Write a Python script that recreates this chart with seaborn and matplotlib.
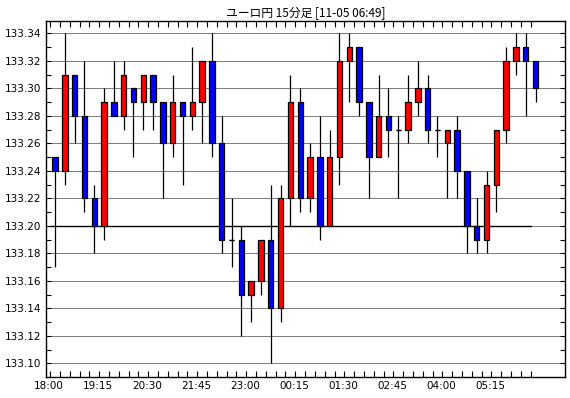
import numpy as np
import pandas as pd
import matplotlib
matplotlib.use("Agg")
import matplotlib.pyplot as plt
import seaborn as sns

# ---- data (EUR/JPY 15-minute candles) ----
title = "ユーロ円 15分足 [11-05 06:49]"
start_time = "18:00"
opens  = [133.25, 133.24, 133.31, 133.28, 133.22, 133.20, 133.29, 133.28, 133.30, 133.29,
          133.31, 133.29, 133.26, 133.29, 133.28, 133.29, 133.32, 133.26, 133.19, 133.19,
          133.15, 133.16, 133.19, 133.14, 133.22, 133.29, 133.22, 133.25, 133.20, 133.25,
          133.32, 133.33, 133.29, 133.25, 133.28, 133.27, 133.27, 133.29, 133.30, 133.27,
          133.26, 133.27, 133.24, 133.20, 133.19, 133.23, 133.27, 133.32, 133.33, 133.32]
highs  = [133.25, 133.34, 133.31, 133.32, 133.23, 133.30, 133.32, 133.32, 133.30, 133.31,
          133.31, 133.29, 133.31, 133.29, 133.33, 133.32, 133.34, 133.28, 133.22, 133.20,
          133.16, 133.19, 133.23, 133.23, 133.31, 133.30, 133.26, 133.28, 133.27, 133.34,
          133.34, 133.33, 133.29, 133.31, 133.30, 133.28, 133.31, 133.32, 133.31, 133.28,
          133.27, 133.28, 133.24, 133.22, 133.24, 133.27, 133.33, 133.34, 133.34, 133.32]
lows   = [133.17, 133.23, 133.26, 133.21, 133.18, 133.19, 133.28, 133.27, 133.25, 133.27,
          133.27, 133.22, 133.25, 133.23, 133.27, 133.26, 133.25, 133.18, 133.17, 133.12,
          133.13, 133.15, 133.10, 133.13, 133.20, 133.21, 133.21, 133.19, 133.20, 133.23,
          133.29, 133.28, 133.22, 133.25, 133.25, 133.22, 133.26, 133.28, 133.26, 133.25,
          133.22, 133.22, 133.18, 133.18, 133.18, 133.21, 133.26, 133.31, 133.28, 133.29]
closes = [133.24, 133.31, 133.28, 133.22, 133.20, 133.29, 133.28, 133.31, 133.29, 133.31,
          133.29, 133.26, 133.29, 133.28, 133.29, 133.32, 133.26, 133.19, 133.19, 133.15,
          133.16, 133.19, 133.14, 133.22, 133.29, 133.22, 133.25, 133.20, 133.25, 133.32,
          133.33, 133.29, 133.25, 133.28, 133.27, 133.27, 133.29, 133.30, 133.27, 133.27,
          133.27, 133.24, 133.20, 133.19, 133.23, 133.27, 133.32, 133.33, 133.32, 133.30]
ref_level = 133.20
y_ticks = [133.10, 133.12, 133.14, 133.16, 133.18, 133.20, 133.22, 133.24, 133.26,
           133.28, 133.30, 133.32, 133.34]

n = len(opens)
times = pd.date_range("2000-01-01 " + start_time, periods=n, freq="15min").strftime("%H:%M")
df = pd.DataFrame({"time": times, "open": opens, "high": highs, "low": lows, "close": closes})
df["pos"] = np.arange(n)
df["body_lo"] = df[["open", "close"]].min(axis=1)
df["body_h"] = (df["close"] - df["open"]).abs()
df["color"] = np.where(df["close"] > df["open"], "#FF0000",
                       np.where(df["close"] < df["open"], "#0000FF", "black"))

# ---- style ----
sns.set_theme(style="white")
plt.rcParams["font.family"] = ["DejaVu Sans", "Noto Sans CJK JP"]

fig = plt.figure(figsize=(5.70, 3.98), dpi=100)
fig.patch.set_facecolor("white")
ax = fig.add_axes([0.0802, 0.0535, 0.9912 - 0.0802, 0.948 - 0.0535])
ax.set_facecolor("white")

# grid
ax.set_yticks(y_ticks)
ax.yaxis.grid(True, linestyle=(0, (1, 1)), color="black", linewidth=0.72)
ax.xaxis.grid(False)
ax.set_axisbelow(True)

# reference line
sns.lineplot(x=[-0.5, n - 1.5], y=[ref_level, ref_level], color="black",
             linewidth=1.0, ax=ax, zorder=2)

# wicks
ax.vlines(df["pos"], df["low"], df["high"], color="black", linewidth=0.9, zorder=3)
# bodies
ax.bar(df["pos"], df["body_h"], bottom=df["body_lo"], width=0.55,
       color=df["color"], edgecolor="black", linewidth=0.9, zorder=4)
doji = df[df["body_h"] == 0]
ax.hlines(doji["open"], doji["pos"] - 0.275, doji["pos"] + 0.275,
          color="black", linewidth=0.9, zorder=4)

# axes limits
ax.set_xlim(-0.95, 52.0)
ax.set_ylim(133.0903, 133.3492)

# x ticks: labels every 5 candles, minor ticks at candle boundaries
lab_idx = np.arange(0, n, 5)
ax.set_xticks(lab_idx - 0.6)
ax.set_xticklabels([df["time"][i] for i in lab_idx], fontsize=7.5)
ax.set_xticks(np.arange(n) - 0.5, minor=True)
ax.tick_params(axis="x", which="major", length=0, pad=3, colors="black")
ax.tick_params(axis="x", which="minor", direction="in", length=4.3, width=0.8,
               top=True, bottom=True, color="black")

# y ticks
ax.set_yticklabels([f"{v:.2f}" for v in y_ticks], fontsize=7.5)
ax.set_yticks(np.arange(133.10, 133.345, 0.01), minor=True)
ax.tick_params(axis="y", which="both", direction="in", length=3.5, width=0.8,
               left=True, right=True, color="black", pad=3.5)
ax.tick_params(axis="y", which="major", labelcolor="black")

for s in ax.spines.values():
    s.set_color("black")
    s.set_linewidth(1.0)

ax.set_xlabel("")
ax.set_ylabel("")
ax.set_title(title, fontsize=8.5, color="black", pad=2.5,
             family=["Noto Sans CJK JP", "DejaVu Sans"])

fig.savefig("out.png", dpi=100, facecolor="white")
